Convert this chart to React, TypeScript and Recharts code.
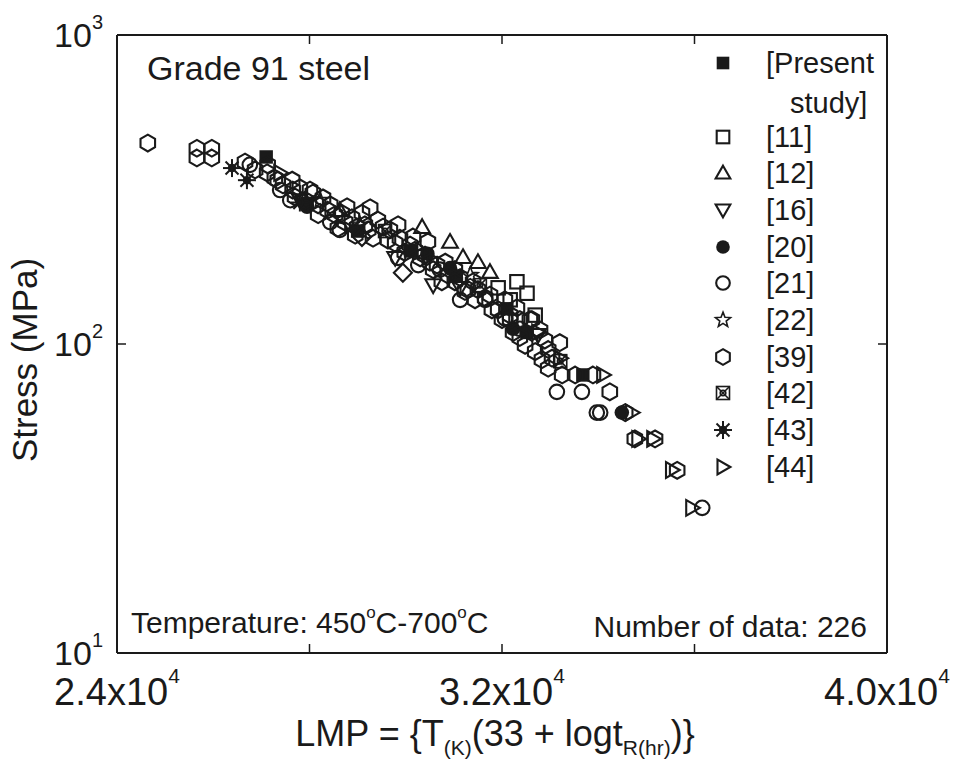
import React from "react"
import { ScatterChart, Scatter, XAxis, YAxis, ReferenceLine } from "recharts"

// [LMP, stress MPa]
const present: [number, number][] = [
  [27100, 403], [27950, 285], [29000, 232], [30100, 200], [31050, 166], [32100, 130], [32520, 109], [33680, 79.4],
]
const ref11: [number, number][] = [
  [32310, 159], [32520, 146], [31920, 152], [32170, 139], [32690, 124],
]
const ref12: [number, number][] = [
  [30340, 239], [30920, 214], [31190, 191], [31750, 171], [31500, 184], [28630, 271],
]
const ref16: [number, number][] = [
  [30570, 155], [31130, 152], [32750, 107], [29780, 190], [27800, 292],
]
const ref20: [number, number][] = [
  [30920, 176], [27950, 278], [30450, 196], [34490, 60], [32230, 112],
]
const ref21: [number, number][] = [
  [33140, 70], [33660, 70], [33970, 60], [36160, 29.5], [31650, 139], [30710, 174],
  [29840, 190], [28430, 248], [27390, 315], [26760, 380], [34040, 60], [32370, 112],
  [27600, 292], [28630, 234], [30260, 180], [31130, 139], [32060, 121],
]
const ref22: [number, number][] = [
  [29050, 243], [31340, 167], [28220, 292],
]
const ref39: [number, number][] = [
  [24640, 447], [25660, 430], [25660, 400], [25970, 430], [25970, 400], [26660, 388], [27120, 358],
  [27640, 339], [27700, 299], [28070, 308], [28280, 297], [28530, 262], [28780, 278], [28590, 237],
  [28990, 239], [29260, 276], [29320, 220], [29530, 239], [29880, 220], [29980, 198], [30150, 222],
  [30300, 190], [30650, 180], [30750, 159], [31400, 159], [31650, 141], [31920, 129], [32310, 131],
  [32620, 120], [32000, 120], [32370, 120], [32580, 120], [32230, 109], [32480, 99], [33200, 101],
  [33040, 90], [33250, 79.4], [33520, 79.4], [33890, 79.4], [34240, 70], [34560, 60], [34760, 49.3],
  [35180, 49.3], [35640, 39], [26870, 366], [27280, 344], [27450, 327], [27800, 320], [27910, 292],
  [28180, 282], [28430, 282], [28670, 265], [28880, 256], [29090, 265], [29150, 243], [29420, 252],
  [29670, 234], [29780, 212], [30090, 209], [30400, 194], [30500, 184], [30820, 184], [31020, 174],
  [31130, 164], [31290, 150], [31500, 150], [31750, 144], [32060, 139], [32170, 124], [32790, 111],
  [32890, 103], [32960, 96], [27130, 380], [27340, 339], [27650, 315], [28010, 315], [28180, 262],
  [28380, 271], [28740, 248], [28950, 225], [29220, 234], [29630, 217], [29840, 243], [30190, 201],
  [30460, 214], [30570, 174], [30880, 167], [31020, 159], [31230, 148], [31440, 139], [31790, 129],
  [32170, 120], [32370, 105], [32690, 94.5], [32830, 89], [32960, 83.5],
]
const ref42: [number, number][] = [
  [29570, 232], [31540, 155], [33210, 88],
]
const ref43: [number, number][] = [
  [26390, 371], [26700, 339], [27800, 287],
]
const ref44: [number, number][] = [
  [27390, 358], [34100, 79.4], [34700, 60], [34830, 49.3], [35140, 49.3], [35530, 39.1], [35950, 29.5],
  [32750, 109], [33210, 90],
]
const unlisted: [number, number][] = [
  [29940, 170], [29090, 222],
]

const X_TICKS = [24000, 28000, 32000, 36000, 40000]
const X_LABELS: Record<number, [string, string]> = { 24000: ["2.4x10", "4"], 32000: ["3.2x10", "4"], 40000: ["4.0x10", "4"] }
const Y_TICKS = [10, 100, 1000]
const Y_LABELS: Record<number, string> = { 10: "1", 100: "2", 1000: "3" }

const SERIES = [
  { name: "[Present", name2: "study]", kind: "fsquare", data: present },
  { name: "[11]", kind: "square", data: ref11 },
  { name: "[12]", kind: "tup", data: ref12 },
  { name: "[16]", kind: "tdown", data: ref16 },
  { name: "[20]", kind: "fcircle", data: ref20 },
  { name: "[21]", kind: "circle", data: ref21 },
  { name: "[22]", kind: "star", data: ref22 },
  { name: "[39]", kind: "hex", data: ref39 },
  { name: "[42]", kind: "xsquare", data: ref42 },
  { name: "[43]", kind: "asterisk", data: ref43 },
  { name: "[44]", kind: "tright", data: ref44 },
]

const INK = "#1a1a1a"
const FONT = "'Liberation Sans', Arial, sans-serif"

function Marker({ kind, cx, cy, k = 1.12 }: { kind: string; cx: number; cy: number; k?: number }) {
  const p = { stroke: INK, strokeWidth: 2.1, fill: "none" }
  const s = 7 * k
  switch (kind) {
    case "fsquare":
      return <rect x={cx - 6 * k} y={cy - 6 * k} width={12 * k} height={12 * k} fill={INK} />
    case "square":
      return <rect x={cx - 6 * k} y={cy - 6 * k} width={12 * k} height={12 * k} {...p} />
    case "tup":
      return <polygon points={`${cx},${cy - s} ${cx + s},${cy + s * 0.75} ${cx - s},${cy + s * 0.75}`} {...p} />
    case "tdown":
      return <polygon points={`${cx},${cy + s} ${cx + s},${cy - s * 0.75} ${cx - s},${cy - s * 0.75}`} {...p} />
    case "tright":
      return <polygon points={`${cx + s},${cy} ${cx - s * 0.75},${cy - s} ${cx - s * 0.75},${cy + s}`} {...p} />
    case "fcircle":
      return <circle cx={cx} cy={cy} r={6.5 * k} fill={INK} />
    case "circle":
      return <circle cx={cx} cy={cy} r={6.5 * k} {...p} />
    case "diamond":
      return <polygon points={`${cx},${cy - 9} ${cx + 9},${cy} ${cx},${cy + 9} ${cx - 9},${cy}`} {...p} />
    case "hex": {
      const r = 7.5 * k
      const pts = [0, 1, 2, 3, 4, 5]
        .map((i) => {
          const a = (Math.PI / 3) * i - Math.PI / 2
          return `${cx + r * Math.cos(a)},${cy + r * Math.sin(a)}`
        })
        .join(" ")
      return <polygon points={pts} {...p} />
    }
    case "star": {
      const pts = Array.from({ length: 10 }, (_, i) => {
        const r = i % 2 === 0 ? 7.5 * k : 3.2 * k
        const a = (Math.PI / 5) * i - Math.PI / 2
        return `${cx + r * Math.cos(a)},${cy + r * Math.sin(a)}`
      }).join(" ")
      return <polygon points={pts} {...p} strokeWidth={1.6} />
    }
    case "xsquare":
      return (
        <g {...p} strokeWidth={1.6}>
          <rect x={cx - 6.5} y={cy - 6.5} width={13} height={13} />
          <line x1={cx - 6.5} y1={cy - 6.5} x2={cx + 6.5} y2={cy + 6.5} />
          <line x1={cx + 6.5} y1={cy - 6.5} x2={cx - 6.5} y2={cy + 6.5} />
          <circle cx={cx} cy={cy} r={2.8} />
        </g>
      )
    case "asterisk":
      return (
        <g stroke={INK} strokeWidth={2}>
          <line x1={cx - 9} y1={cy} x2={cx + 9} y2={cy} />
          <line x1={cx} y1={cy - 9} x2={cx} y2={cy + 9} />
          <line x1={cx - 6.5} y1={cy - 6.5} x2={cx + 6.5} y2={cy + 6.5} />
          <line x1={cx + 6.5} y1={cy - 6.5} x2={cx - 6.5} y2={cy + 6.5} />
          <circle cx={cx} cy={cy} r={3.2} fill={INK} />
        </g>
      )
    default:
      return null
  }
}

function BottomTick(props: any) {
  const { x, y, payload } = props
  const lab = X_LABELS[payload.value]
  return (
    <g>
      {payload.value > 24000 && payload.value < 40000 && <line x1={x} y1={y} x2={x} y2={y - 9} stroke={INK} strokeWidth={1.5} />}
      {lab && (
        <text x={x} y={y + 52} textAnchor="middle" fontFamily={FONT} fontSize={38} fill={INK}>
          {lab[0]}
          <tspan fontSize={21} dy={-22}>{lab[1]}</tspan>
        </text>
      )}
    </g>
  )
}

function TopTick(props: any) {
  const { x, y, payload } = props
  if (payload.value <= 24000 || payload.value >= 40000) return null
  return <line x1={x} y1={y} x2={x} y2={y + 9} stroke={INK} strokeWidth={1.5} />
}

function LeftTick(props: any) {
  const { x, y, payload } = props
  return (
    <g>
      {payload.value === 100 && <line x1={x} y1={y} x2={x + 9} y2={y} stroke={INK} strokeWidth={1.5} />}
      <text x={x - 14} y={y + 12} textAnchor="end" fontFamily={FONT} fontSize={34} fill={INK}>
        10
        <tspan fontSize={20} dy={-18}>{Y_LABELS[payload.value]}</tspan>
      </text>
    </g>
  )
}

function RightTick(props: any) {
  const { x, y, payload } = props
  if (payload.value !== 100) return null
  return <line x1={x} y1={y} x2={x - 9} y2={y} stroke={INK} strokeWidth={1.5} />
}

const LEGEND_ROWS = [63, 137, 173, 210, 247, 283, 320, 357, 393, 430, 467]

export default function App() {
  const axisLine = { stroke: INK, strokeWidth: 2 }
  return (
    <div style={{ position: "absolute", left: 0, top: 0, width: 954, height: 767, background: "#fff" }}>
      <ScatterChart width={954} height={767} margin={{ top: 34, right: 66, bottom: 24, left: 17 }}>
        <XAxis
          xAxisId="b"
          type="number"
          dataKey="x"
          domain={[24000, 40000]}
          ticks={X_TICKS}
          allowDataOverflow
          height={90}
          tickSize={0}
          tickMargin={0}
          tickLine={false}
          axisLine={axisLine}
          tick={<BottomTick />}
          interval={0}
        />
        <XAxis
          xAxisId="t"
          orientation="top"
          type="number"
          dataKey="x"
          domain={[24000, 40000]}
          ticks={X_TICKS}
          allowDataOverflow
          height={1}
          tickSize={0}
          tickMargin={0}
          tickLine={false}
          axisLine={axisLine}
          tick={<TopTick />}
          interval={0}
        />
        <YAxis
          yAxisId="l"
          type="number"
          dataKey="y"
          scale="log"
          domain={[10, 1000]}
          ticks={Y_TICKS}
          allowDataOverflow
          width={100}
          tickSize={0}
          tickMargin={0}
          tickLine={false}
          axisLine={axisLine}
          tick={<LeftTick />}
          interval={0}
        />
        <YAxis
          yAxisId="r"
          orientation="right"
          type="number"
          dataKey="y"
          scale="log"
          domain={[10, 1000]}
          ticks={Y_TICKS}
          allowDataOverflow
          width={1}
          tickSize={0}
          tickMargin={0}
          tickLine={false}
          axisLine={axisLine}
          tick={<RightTick />}
          interval={0}
        />
        <ReferenceLine xAxisId="b" yAxisId="l" y={1000} stroke={INK} strokeWidth={2} />
        <ReferenceLine xAxisId="b" yAxisId="l" x={40000} stroke={INK} strokeWidth={2} />
        <Scatter xAxisId="t" yAxisId="r" data={[]} isAnimationActive={false} />
        {SERIES.map((s) => (
          <Scatter
            key={s.name}
            xAxisId="b"
            yAxisId="l"
            name={s.name}
            data={s.data.map(([x, y]) => ({ x, y }))}
            isAnimationActive={false}
            shape={(p: any) => <Marker kind={s.kind} cx={p.cx} cy={p.cy} />}
          />
        ))}
        <Scatter
          xAxisId="b"
          yAxisId="l"
          data={unlisted.map(([x, y]) => ({ x, y }))}
          isAnimationActive={false}
          shape={(p: any) => <Marker kind="diamond" cx={p.cx} cy={p.cy} />}
        />
      </ScatterChart>
      <svg width={954} height={767} style={{ position: "absolute", left: 0, top: 0, pointerEvents: "none" }}>
        <g fontFamily={FONT} fill={INK}>
          <text x={147} y={80} fontSize={34}>Grade 91 steel</text>
          {SERIES.map((s, i) => (
            <g key={s.name}>
              <Marker kind={s.kind} cx={723} cy={LEGEND_ROWS[i]} k={1.05} />
              <text x={766} y={LEGEND_ROWS[i] + 10} fontSize={29}>{s.name}</text>
              {s.name2 && <text x={790} y={LEGEND_ROWS[i] + 50} fontSize={29}>{s.name2}</text>}
            </g>
          ))}
          <text x={131} y={633} fontSize={30}>
            Temperature: 450<tspan fontSize={17} dy={-15}>o</tspan>
            <tspan dy={15}>C-700</tspan>
            <tspan fontSize={17} dy={-15}>o</tspan>
            <tspan dy={15}>C</tspan>
          </text>
          <text x={867} y={637} fontSize={30} textAnchor="end">Number of data: 226</text>
          <text x={495} y={746} fontSize={36} textAnchor="middle">
            LMP = {"{"}T<tspan fontSize={21} dy={9}>(K)</tspan>
            <tspan dy={-9}>(33 + logt</tspan>
            <tspan fontSize={21} dy={9}>R(hr)</tspan>
            <tspan dy={-9}>{")}"}</tspan>
          </text>
          <text x={37} y={360} fontSize={35} textAnchor="middle" transform="rotate(-90, 37, 360)">Stress (MPa)</text>
        </g>
      </svg>
    </div>
  )
}
